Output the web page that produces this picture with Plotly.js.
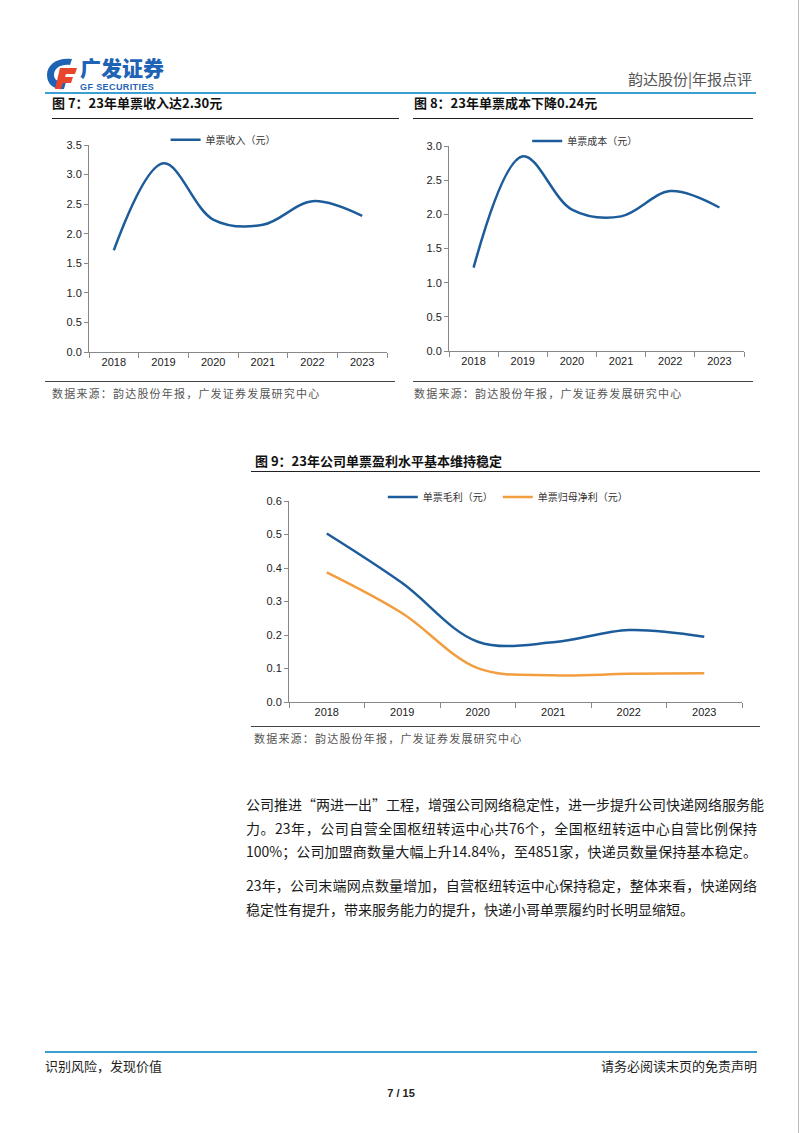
<!DOCTYPE html>
<html>
<head>
<meta charset="utf-8">
<script src="https://cdn.plot.ly/plotly-3.0.1.min.js"></script>
<style>
  body { margin: 0; background: #fff; }
  #page { position: relative; width: 802px; height: 1133px; overflow: hidden; font-family: "Noto Sans CJK SC", sans-serif; }
  .abs { position: absolute; line-height: 1; white-space: nowrap; }
  .hline { position: absolute; height: 0; }
  .title { position: absolute; font-size: 13px; font-weight: bold; color: #111; white-space: nowrap; line-height: 1; }
  .source { position: absolute; font-size: 11px; color: #555; letter-spacing: 1.2px; white-space: nowrap; line-height: 1; }
  .para { position: absolute; left: 246px; width: 511px; font-size: 14px; color: #1a1a1a; line-height: 23.5px; }
  .para div { text-align: justify; text-align-last: justify; white-space: nowrap; }
  .para div.last { text-align-last: left; }
  .chart { position: absolute; }
</style>
</head>
<body>
<div id="page">
  <!-- header -->
  <svg class="abs" style="left:44px;top:56px" width="34" height="36" viewBox="0 0 34 36">
    <path d="M28 3 C14 1 3 8 3 19 C3 29 11 34 20 33 L22 26 C15 27 10 24 10 19 C10 12 17 8 26 9 Z" fill="#1f63b5"/>
    <path d="M16 12 L33 12 L31 18 L22 18 L21 21 L29 21 L27 27 L19 27 L17 33 L11 33 Z" fill="#e8452c"/>
  </svg>
  <div class="abs" style="left:80px;top:57px;font-size:21px;font-weight:900;color:#1f63b5;letter-spacing:0px">广发证券</div>
  <div class="abs" style="left:80px;top:83px;font-size:9px;font-weight:bold;color:#1f63b5;font-family:'Liberation Sans',Arial;letter-spacing:0.4px">GF SECURITIES</div>
  <div class="abs" style="left:628px;top:71px;font-size:15px;color:#555">韵达股份|年报点评</div>
  <div class="hline" style="left:45px;top:92px;width:711px;border-top:2px solid #3b9fd1"></div>
  <div class="abs" style="left:798px;top:0;width:1px;height:1133px;background:#bbb"></div>

  <!-- figure 7 & 8 titles -->
  <div class="title" style="left:52px;top:96px">图 7：23年单票收入达2.30元</div>
  <div class="hline" style="left:52px;top:118px;width:347px;border-top:1px solid #222"></div>
  <div class="title" style="left:414px;top:96px">图 8：23年单票成本下降0.24元</div>
  <div class="hline" style="left:413px;top:118px;width:340px;border-top:1px solid #222"></div>

  <div id="chart1" class="chart" style="left:45px;top:128px;width:355px;height:250px"></div>
  <div id="chart2" class="chart" style="left:405px;top:128px;width:350px;height:250px"></div>

  <div class="hline" style="left:45px;top:381px;width:350px;border-top:1px solid #444"></div>
  <div class="source" style="left:52px;top:388px">数据来源：韵达股份年报，广发证券发展研究中心</div>
  <div class="hline" style="left:413px;top:381px;width:340px;border-top:1px solid #444"></div>
  <div class="source" style="left:414px;top:388px">数据来源：韵达股份年报，广发证券发展研究中心</div>

  <!-- figure 9 -->
  <div class="title" style="left:255px;top:454px">图 9：23年公司单票盈利水平基本维持稳定</div>
  <div class="hline" style="left:251px;top:471px;width:509px;border-top:1px solid #222"></div>
  <div id="chart3" class="chart" style="left:245px;top:480px;width:515px;height:245px"></div>
  <div class="hline" style="left:251px;top:726px;width:509px;border-top:1px solid #444"></div>
  <div class="source" style="left:254px;top:733px">数据来源：韵达股份年报，广发证券发展研究中心</div>

  <!-- body text -->
  <div class="para" style="top:793px">
    <div>公司推进“两进一出”工程，增强公司网络稳定性，进一步提升公司快递网络服务能</div>
    <div>力。23年，公司自营全国枢纽转运中心共76个，全国枢纽转运中心自营比例保持</div>
    <div>100%；公司加盟商数量大幅上升14.84%，至4851家，快递员数量保持基本稳定。</div>
  </div>
  <div class="para" style="top:874px">
    <div>23年，公司末端网点数量增加，自营枢纽转运中心保持稳定，整体来看，快递网络</div>
    <div class="last">稳定性有提升，带来服务能力的提升，快递小哥单票履约时长明显缩短。</div>
  </div>

  <!-- footer -->
  <div class="hline" style="left:45px;top:1051px;width:712px;border-top:2px solid #3b9fd1"></div>
  <div class="abs" style="left:45px;top:1059px;font-size:13px;color:#222">识别风险，发现价值</div>
  <div class="abs" style="right:45px;top:1059px;font-size:13px;color:#222">请务必阅读末页的免责声明</div>
  <div class="abs" style="left:0;width:802px;top:1088px;text-align:center;font-size:11px;font-weight:bold;color:#222;font-family:'Liberation Sans',Arial">7 / 15</div>
</div>

<script>
const years = ['2018', '2019', '2020', '2021', '2022', '2023'];
const revenuePerParcel = [1.72, 3.19, 2.24, 2.15, 2.55, 2.30];
const costPerParcel = [1.22, 2.85, 2.07, 1.97, 2.34, 2.10];
const grossProfitPerParcel = [0.503, 0.355, 0.18, 0.178, 0.215, 0.195];
const netProfitPerParcel = [0.387, 0.265, 0.101, 0.080, 0.084, 0.086];

const BLUE = '#1d5c9b';
const ORANGE = '#f29d3f';
const tickFont = { family: 'Liberation Sans, Arial, sans-serif', size: 11, color: '#222' };
const legendFont = { family: 'Noto Sans CJK SC, sans-serif', size: 10, color: '#333' };

function lineTrace(y, name, color) {
  return {
    x: years,
    y: y,
    name: name,
    type: 'scatter',
    mode: 'lines',
    line: { color: color, width: 2.5, shape: 'spline', smoothing: 1 }
  };
}

function baseLayout(yMax, dtick, margin, legendX, legendY) {
  return {
    width: margin.w,
    height: margin.h,
    margin: { l: margin.l, r: margin.r, t: margin.t, b: margin.b, autoexpand: false },
    paper_bgcolor: 'rgba(0,0,0,0)',
    plot_bgcolor: 'rgba(0,0,0,0)',
    showlegend: true,
    legend: {
      orientation: 'h', x: legendX, xanchor: 'center', y: legendY, yanchor: 'middle',
      font: legendFont, itemwidth: 30, bgcolor: 'rgba(0,0,0,0)'
    },
    xaxis: {
      type: 'category', range: [-0.5, 5.5], showgrid: false, zeroline: false,
      showline: true, linecolor: '#888', linewidth: 1,
      ticks: 'outside', tickson: 'boundaries', ticklen: 5, tickcolor: '#888',
      tickfont: tickFont
    },
    yaxis: {
      range: [0, yMax], dtick: dtick, tickformat: '.1f', showgrid: false, zeroline: false,
      showline: true, linecolor: '#888', linewidth: 1,
      ticks: 'outside', ticklen: 4, tickcolor: '#888', tickfont: tickFont
    }
  };
}

const config = { staticPlot: true, displayModeBar: false };

Plotly.newPlot('chart1',
  [lineTrace(revenuePerParcel, '单票收入（元）', BLUE)],
  baseLayout(3.5, 0.5, { w: 355, h: 250, l: 44, r: 13, t: 17, b: 26 }, 0.45, 1.025),
  config);

Plotly.newPlot('chart2',
  [lineTrace(costPerParcel, '单票成本（元）', BLUE)],
  baseLayout(3.0, 0.5, { w: 350, h: 250, l: 44, r: 11, t: 18, b: 27 }, 0.46, 1.025),
  config);

Plotly.newPlot('chart3',
  [lineTrace(grossProfitPerParcel, '单票毛利（元）', BLUE),
   lineTrace(netProfitPerParcel, '单票归母净利（元）', ORANGE)],
  baseLayout(0.6, 0.1, { w: 515, h: 245, l: 44, r: 18, t: 21, b: 23 }, 0.483, 1.02),
  config);
</script>
</body>
</html>
